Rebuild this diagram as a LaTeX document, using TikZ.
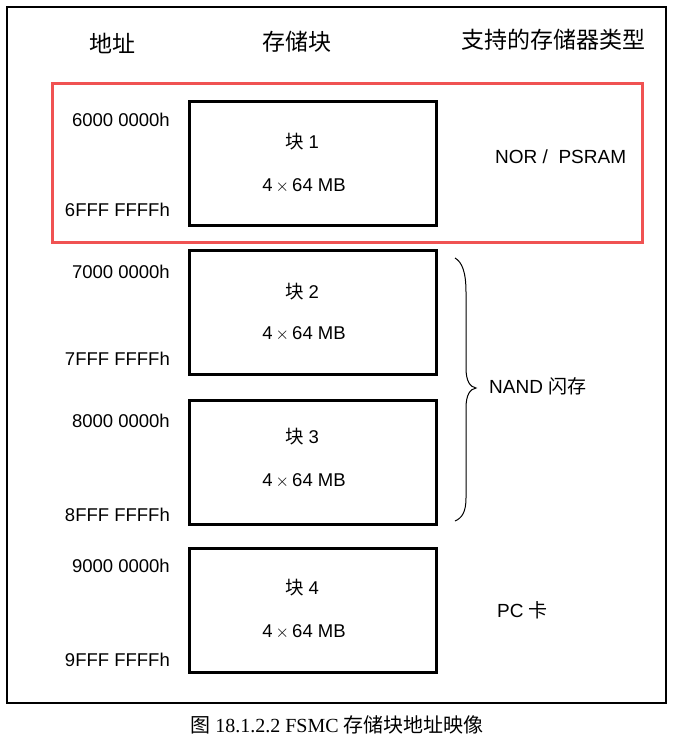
\documentclass[tikz,border=0pt]{standalone}
\usepackage{fontspec}
\setmainfont{Liberation Sans}
\newfontfamily\cjk{Noto Sans CJK SC}
\newfontfamily\capserif{Liberation Serif}
\begin{document}
\begin{tikzpicture}[x=1pt,y=-1pt,
  hdr/.style={font=\cjk\fontsize{23}{25}\selectfont, inner sep=0pt},
  addr/.style={anchor=east, font=\fontsize{18.5}{20}\selectfont, inner sep=0pt},
  bank/.style={draw=black, line width=3pt, minimum width=247pt, minimum height=124pt, inner sep=0pt},
  intxt/.style={font=\fontsize{18.5}{20}\selectfont, inner sep=0pt},
  kind/.style={font=\fontsize{19}{21}\selectfont, inner sep=0pt, anchor=west},
  hilite/.style={draw={rgb,255:red,240;green,82;blue,82}, line width=3pt}]
\useasboundingbox (0,0) rectangle (675,737);

% outer frame
\draw[line width=1.2pt] (7,7) rectangle (666,703);

% column headings
\node[hdr] (hAddr) at (112,43) {地址};
\node[hdr] (hBank) at (297,42) {存储块};
\node[hdr] (hType) at (553,40) {支持的存储器类型};

% banks
\node[bank] (b1) at (312.5,163.5) {};
\node[bank] (b2) at (312.5,312) {};
\node[bank] (b3) at (312.5,462) {};
\node[bank] (b4) at (312.5,610) {};

\foreach \b/\n/\ya/\yb in {b1/1/142/186, b2/2/292/334, b3/3/437/481, b4/4/588/632}{
  \node[intxt] (\b t) at (302,\ya) {{\cjk 块} \n};
  \node[intxt] (\b s) at (304,\yb) {4\,$\times$\,64 MB};
}

% address ranges
\node[addr] (a1s) at (170,120) {6000 0000h};
\node[addr] (a1e) at (170,210) {6FFF FFFFh};
\node[addr] (a2s) at (170,272) {7000 0000h};
\node[addr] (a2e) at (170,359) {7FFF FFFFh};
\node[addr] (a3s) at (170,421) {8000 0000h};
\node[addr] (a3e) at (170,515) {8FFF FFFFh};
\node[addr] (a4s) at (170,566) {9000 0000h};
\node[addr] (a4e) at (170,660) {9FFF FFFFh};

% memory types
\node[kind] (k1) at (495,157) {NOR /\ \ PSRAM};
\node[kind] (k2) at (489,386) {NAND {\cjk 闪存}};
\node[kind] (k4) at (497,610) {PC {\cjk 卡}};

% highlight of bank 1
\draw[hilite] (52,83) rectangle (642,242);

% brace grouping banks 2 and 3
\coordinate (brTop) at (455,258);
\coordinate (brTip) at (476,388);
\coordinate (brBot) at (455,521);
\draw[line width=1pt] (brTop) .. controls (462,262) and (466,272) .. (466,292)
  -- (466,368) .. controls (466,381) and (470,387) .. (brTip)
  .. controls (470,389) and (466,395) .. (466,408)
  -- (466,498) .. controls (466,512) and (462,518) .. (brBot);

% caption
\node[inner sep=0pt, font=\capserif\fontsize{20}{22}\selectfont] (cap) at (337,725)
  {{\cjk 图} 18.1.2.2 FSMC {\cjk 存储块地址映像}};
\end{tikzpicture}
\end{document}
